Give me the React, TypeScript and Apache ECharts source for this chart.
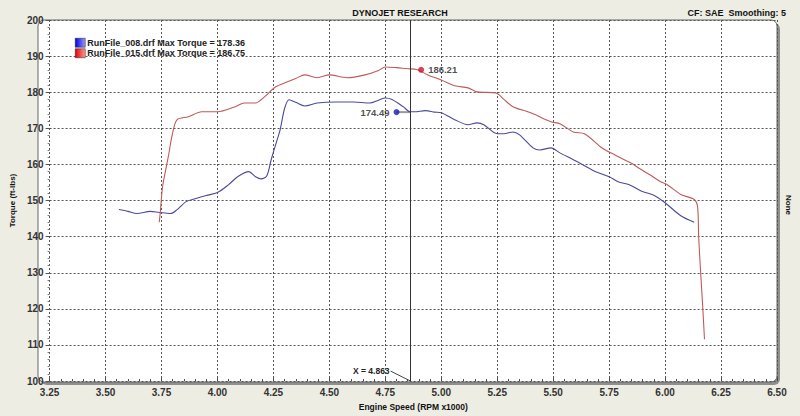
import React, { useEffect, useRef } from "react";
import * as echarts from "echarts";

const chartTitle = "DYNOJET RESEARCH";
const cfText = "CF: SAE  Smoothing: 5";
const rightLabel = "None";
const yTitle = "Torque (ft-lbs)";
const xTitle = "Engine Speed (RPM x1000)";

const seriesNames = [
  "RunFile_008.drf Max Torque = 178.36",
  "RunFile_015.drf Max Torque = 186.75",
];

const run008: [number, number][] = [
  [3.56, 147.5], [3.6, 147.0], [3.64, 146.4], [3.7, 147.0], [3.74, 146.7],
  [3.79, 146.4], [3.82, 147.5], [3.86, 149.7], [3.9, 150.5], [3.95, 151.4],
  [4.0, 152.2], [4.05, 154.4], [4.09, 156.6], [4.14, 158.0], [4.17, 156.6],
  [4.195, 156.0], [4.22, 156.8], [4.24, 161.3], [4.26, 165.5], [4.28, 169.6],
  [4.3, 175.5], [4.32, 177.9], [4.35, 177.2], [4.39, 176.2], [4.445, 177.0],
  [4.53, 177.3], [4.61, 177.3], [4.68, 177.0], [4.72, 177.8], [4.75, 178.4],
  [4.78, 178.0], [4.83, 176.0], [4.86, 174.6], [4.88, 174.6], [4.93, 174.9],
  [4.97, 174.5], [5.0, 174.3], [5.06, 172.4], [5.12, 171.0], [5.16, 171.5],
  [5.19, 171.0], [5.25, 168.5], [5.28, 168.5], [5.32, 169.0], [5.35, 168.2],
  [5.41, 164.6], [5.44, 164.0], [5.49, 164.6], [5.53, 163.2], [5.59, 161.3],
  [5.63, 160.0], [5.69, 158.0], [5.75, 156.6], [5.79, 155.2], [5.84, 154.4],
  [5.895, 152.6], [5.95, 151.5], [6.0, 149.4], [6.07, 145.8], [6.13, 144.0],
];

const run015: [number, number][] = [
  [3.74, 144.0], [3.745, 147.0], [3.755, 153.9], [3.78, 162.0], [3.8, 168.8],
  [3.82, 172.4], [3.87, 173.2], [3.93, 174.6], [4.0, 174.6], [4.08, 176.0],
  [4.12, 177.0], [4.17, 177.0], [4.21, 178.7], [4.26, 181.5], [4.31, 182.8],
  [4.35, 183.8], [4.39, 184.8], [4.445, 184.0], [4.5, 184.8], [4.58, 184.0],
  [4.66, 184.8], [4.72, 186.0], [4.75, 187.0], [4.8, 186.8], [4.85, 186.5],
  [4.89, 186.3], [4.94, 184.8], [5.0, 183.4], [5.06, 181.8], [5.12, 181.2],
  [5.16, 180.1], [5.245, 179.8], [5.28, 178.0], [5.32, 176.0], [5.4, 174.3],
  [5.49, 171.8], [5.53, 171.3], [5.59, 169.0], [5.64, 168.5], [5.72, 164.5],
  [5.78, 162.5], [5.85, 160.3], [5.88, 159.1], [5.93, 157.2], [5.98, 155.2],
  [6.01, 154.4], [6.07, 151.7], [6.13, 150.3], [6.145, 148.3], [6.15, 140.0],
  [6.158, 131.0], [6.167, 121.8], [6.176, 111.6],
];

const cursorX = 4.863;
const cursorLabel = "X = 4.863";
const markerBlue: [number, number] = [4.8, 174.49];
const markerRed: [number, number] = [4.91, 186.21];
const markerBlueLabel = "174.49";
const markerRedLabel = "186.21";

const xMin = 3.25;
const xMax = 6.5;
const xStep = 0.25;
const yMin = 100;
const yMax = 200;
const yStep = 10;

const FONT = "Liberation Sans";

export default function App() {
  const ref = useRef<HTMLDivElement>(null);

  useEffect(() => {
    document.body.style.margin = "0";
    if (!ref.current) return;
    const chart = echarts.init(ref.current, undefined, { renderer: "svg" });
    const grad = (a: string, b: string) =>
      new echarts.graphic.LinearGradient(0, 0, 1, 0, [
        { offset: 0, color: a },
        { offset: 1, color: b },
      ]);

    const gridL = 38, gridR = 23, gridT = 20, gridB = 34;
    const pw = 800 - gridL - gridR;
    const ph = 416 - gridT - gridB;

    chart.setOption({
      animation: false,
      backgroundColor: "#EEEDE4",
      textStyle: { fontFamily: FONT },
      grid: { left: gridL, right: gridR, top: gridT, bottom: gridB },
      title: [
        {
          text: chartTitle,
          left: "center",
          top: 3,
          textStyle: { fontSize: 9, fontWeight: "bold", color: "#111", fontFamily: FONT },
        },
        {
          text: cfText,
          right: 9,
          top: 3,
          textStyle: { fontSize: 9, fontWeight: "bold", color: "#111", fontFamily: FONT },
        },
      ],
      legend: {
        left: 70,
        top: 33,
        orient: "vertical",
        itemWidth: 10,
        itemHeight: 9,
        itemGap: 1,
        icon: "rect",
        data: [
          { name: seriesNames[0], itemStyle: { color: grad("#0000e0", "#9a9aff"), borderColor: "#222", borderWidth: 0.5 } },
          { name: seriesNames[1], itemStyle: { color: grad("#e00000", "#ff9a9a"), borderColor: "#222", borderWidth: 0.5 } },
        ],
        textStyle: { fontSize: 9, fontWeight: "bold", color: "#222", fontFamily: FONT, padding: [0, 0, 0, -3] },
      },
      xAxis: {
        type: "value",
        min: xMin,
        max: xMax,
        interval: xStep,
        name: xTitle,
        nameLocation: "middle",
        nameGap: 20,
        nameTextStyle: { fontSize: 8.5, fontWeight: "bold", color: "#111", fontFamily: FONT },
        axisLine: { show: false },
        axisTick: { show: true, inside: true, length: 3, lineStyle: { color: "#444" } },
        minorTick: { show: true, splitNumber: 5, length: 2, lineStyle: { color: "#444" } },
        axisLabel: {
          fontSize: 10,
          fontWeight: "bold",
          color: "#333",
          margin: 6,
          formatter: (v: number) => v.toFixed(2),
        },
        splitLine: { show: true, lineStyle: { color: "#555", type: [2, 2], width: 1 } },
      },
      yAxis: {
        type: "value",
        min: yMin,
        max: yMax,
        interval: yStep,
        name: yTitle,
        nameLocation: "middle",
        nameGap: 28,
        nameRotate: 90,
        nameTextStyle: { fontSize: 8, fontWeight: "bold", color: "#111", fontFamily: FONT },
        axisLine: { show: false },
        axisTick: { show: true, inside: false, length: 4, lineStyle: { color: "#555" } },
        minorTick: { show: true, splitNumber: 5, length: 2, lineStyle: { color: "#777" } },
        axisLabel: { fontSize: 10, fontWeight: "bold", color: "#333", margin: 6 },
        splitLine: { show: true, lineStyle: { color: "#555", type: [2, 2], width: 1 } },
      },
      graphic: [
        {
          type: "rect",
          z: -10,
          silent: true,
          shape: { x: gridL + 3, y: gridT + 3, width: pw, height: ph, r: 6 },
          style: { fill: "#8f8f8f" },
        },
        {
          type: "rect",
          z: -9,
          silent: true,
          shape: { x: gridL, y: gridT, width: pw, height: ph, r: 6 },
          style: { fill: "#ffffff", stroke: "#666", lineWidth: 1 },
        },
        {
          type: "text",
          x: 788,
          y: 205,
          rotation: -Math.PI / 2,
          style: {
            text: rightLabel,
            fontSize: 8,
            fontWeight: "bold",
            fontFamily: FONT,
            fill: "#111",
            align: "center",
            verticalAlign: "middle",
          },
        },
      ],
      series: [
        {
          name: seriesNames[0],
          type: "line",
          data: run008,
          showSymbol: false,
          symbol: "none",
          smooth: 0.3,
          lineStyle: { color: "#4a4a9c", width: 1.1 },
          itemStyle: { color: "#4a4a9c" },
          z: 3,
          markLine: {
            silent: true,
            symbol: "none",
            label: { show: false },
            lineStyle: { color: "#333", width: 1, type: "solid" },
            data: [{ xAxis: cursorX }],
          },
        },
        {
          name: seriesNames[1],
          type: "line",
          data: run015,
          showSymbol: false,
          symbol: "none",
          smooth: 0.3,
          lineStyle: { color: "#c05a5a", width: 1.1 },
          itemStyle: { color: "#c05a5a" },
          z: 3,
        },
        {
          name: "connector",
          type: "line",
          data: [markerBlue, [cursorX, markerBlue[1]]],
          showSymbol: false,
          symbol: "none",
          lineStyle: { color: "#999", width: 2 },
          z: 2,
        },
        {
          name: "markers",
          type: "scatter",
          symbolSize: 6,
          z: 5,
          data: [
            {
              value: markerBlue,
              itemStyle: { color: "#1a1ab8" },
              label: { show: true, position: "left", formatter: markerBlueLabel, distance: 4 },
            },
            {
              value: markerRed,
              itemStyle: { color: "#d0102a" },
              label: { show: true, position: "right", formatter: markerRedLabel, distance: 4 },
            },
          ],
          label: { fontSize: 9.5, fontWeight: "bold", color: "#222", fontFamily: FONT },
        },
      ],
    });

    const p = chart.convertToPixel({ gridIndex: 0 }, [cursorX, yMin]) as number[];
    if (p) {
      chart.setOption({
        graphic: [
          {},
          {},
          {},
          {
            type: "text",
            x: p[0] - 21,
            y: p[1] - 10,
            style: {
              text: cursorLabel,
              fontSize: 8.5,
              fontWeight: "bold",
              fontFamily: FONT,
              fill: "#222",
              align: "right",
              verticalAlign: "middle",
            },
          },
          {
            type: "line",
            shape: { x1: p[0] - 20, y1: p[1] - 10, x2: p[0], y2: p[1] },
            style: { stroke: "#444", lineWidth: 1 },
          },
        ],
      });
    }

    return () => chart.dispose();
  }, []);

  return <div ref={ref} style={{ width: 800, height: 416 }} />;
}
